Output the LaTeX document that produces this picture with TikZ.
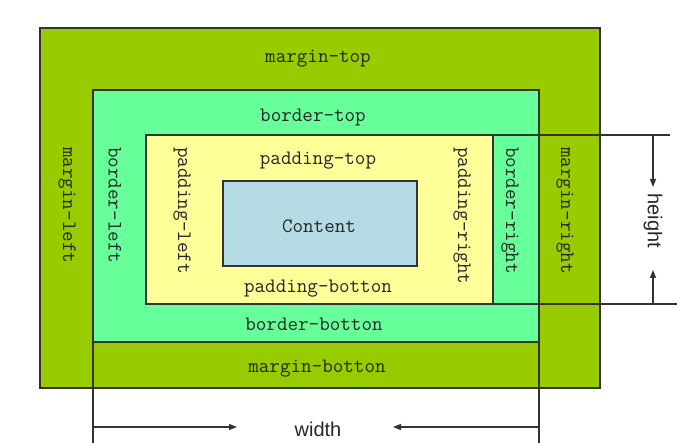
\documentclass[tikz,border=0pt]{standalone}
\usepackage{fontspec}
\setmainfont{Liberation Sans}
\usetikzlibrary{positioning, calc, arrows.meta}

\definecolor{marginc}{HTML}{99CC00}
\definecolor{borderc}{HTML}{66FF99}
\definecolor{paddingc}{HTML}{FFFF99}
\definecolor{contentc}{HTML}{B5DCE4}
\definecolor{edgec}{HTML}{333333}

\begin{document}
\begin{tikzpicture}[
  x=1pt, y=-1pt,
  boxpart/.style={draw=edgec, line width=1.3pt, inner sep=0pt, outer sep=0pt},
  boxlabel/.style={font=\ttfamily\fontsize{20.5}{20.5}\selectfont, text=black!85, inner sep=0pt},
  sidelabel/.style={boxlabel, rotate=-90, anchor=west},
  guide/.style={draw=edgec, line width=1.3pt},
  dimarrow/.style={guide, -{Triangle[length=8pt, width=6pt]}},
  dimlabel/.style={font=\fontsize{20}{20}\selectfont, text=black!85, inner sep=1pt},
]
\useasboundingbox (0,0) rectangle (681,443);

% ---- nested boxes (outside in) ----
\node[boxpart, fill=marginc, minimum width=560pt, minimum height=360pt] (margin) at (320,208) {};
\node[boxpart, fill=borderc, minimum width=446pt, minimum height=252pt] (border) at (316,216) {};
\node[boxpart, fill=paddingc, minimum width=347pt, minimum height=169pt] (padding) at (319.5,219.5) {};
\node[boxpart, fill=contentc, minimum width=194pt, minimum height=85pt] (content) at (320,223.5) {};
\node[boxlabel] (contentlabel) at (319,226) {Content};

% ---- extension lines ----
\coordinate (leftfoot) at (93,443);
\coordinate (rightfoot) at (539,443);
\coordinate (topend) at (670,135);
\coordinate (botend) at (677,304);
\draw[guide] (border.south west) -- (leftfoot);
\draw[guide] (border.south east) -- (rightfoot);
\draw[guide] (padding.north east) -- (topend);
\draw[guide] (padding.south east) -- (botend);

% ---- horizontal labels ----
\foreach \name/\x/\y/\txt in {margintop/318/58.5/margin-top, bordertop/313/117.5/border-top,
  paddingtop/318/160.5/padding-top, paddingbot/318/289/padding-botton,
  borderbot/314/324/border-botton, marginbot/317/369/margin-botton}{
  \node[boxlabel] (\name) at (\x,\y) {\txt};
}

% ---- vertical labels ----
\foreach \name/\x/\txt in {marginleft/67/margin-left, borderleft/115/border-left,
  paddingleft/182/padding-left, paddingright/462/padding-right,
  borderright/510/border-right, marginright/565/margin-right}{
  \node[sidelabel] (\name) at (\x,147) {\txt};
}

% ---- width ----
\node[dimlabel] (widthlabel) at (318,429) {width};
\coordinate (wstartL) at (93,427);
\coordinate (wtipL) at (237,427);
\coordinate (wstartR) at (539,427);
\coordinate (wtipR) at (393,427);
\draw[dimarrow] (wstartL) -- (wtipL);
\draw[dimarrow] (wstartR) -- (wtipR);

% ---- height ----
\node[dimlabel, rotate=-90] (heightlabel) at (653,221) {height};
\coordinate (hstartT) at (653,135);
\coordinate (htipT) at (653,187);
\coordinate (hstartB) at (653,304);
\coordinate (htipB) at (653,270);
\draw[dimarrow] (hstartT) -- (htipT);
\draw[dimarrow] (hstartB) -- (htipB);

\end{tikzpicture}
\end{document}
